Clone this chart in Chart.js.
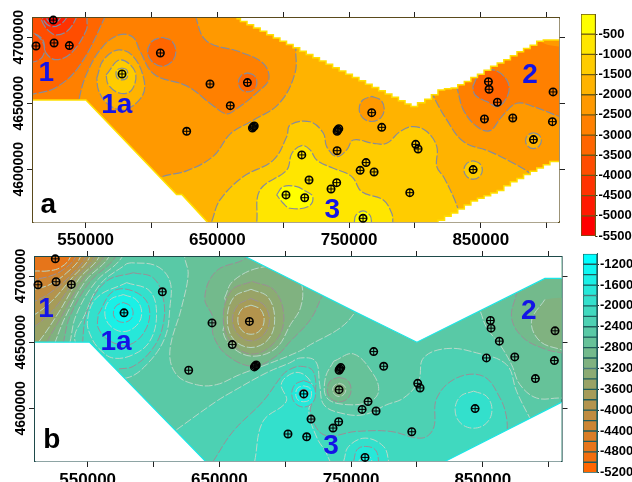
<!DOCTYPE html>
<html><head><meta charset="utf-8">
<script src="https://cdn.jsdelivr.net/npm/chart.js@4"></script>
<style>html,body{margin:0;padding:0;background:#fff;overflow:hidden}
canvas{position:absolute}</style></head>
<body>
<canvas id="mapA" style="left:0;top:0"></canvas>
<canvas id="barA" style="left:575px;top:0"></canvas>
<canvas id="mapB" style="left:0;top:241px"></canvas>
<canvas id="barB" style="left:577px;top:245px"></canvas>
<script>
// Wells, thousands of metres (easting, northing)
const wells = [[525.4,4713],[512.3,4693.4],[526,4695.7],[537.6,4693.7],[577.6,4672.2],[606.7,4688.1],[644.4,4664.6],[672.8,4665.7],[659.8,4648.2],[626.7,4628.8],[676.6,4631.3],[677.3,4632.1],[678,4632.8],[714.1,4610.9],[702.1,4580.6],[767.2,4642.9],[774.8,4631.8],[742.2,4630.8],[741.4,4629.8],[740.9,4628.8],[740.9,4614.1],[800.6,4618.9],[802.4,4615.4],[762.9,4605.1],[758.4,4599.2],[769,4598],[719.6,4591.9],[740.6,4589.9],[736.3,4585.1],[716.3,4578.5],[796.1,4582.3],[760.6,4562.9],[844.2,4599.8],[890,4622.5],[852.8,4638.1],[874.3,4638.9],[904.4,4636.1],[904.9,4658.6],[862.6,4650.8],[856.3,4660.6],[855.8,4666.4]];
const xTicks = [550000,600000,650000,700000,750000,800000,850000,900000];
const xLabelled = [550000,650000,750000,850000];
const yTicks = [4600000,4650000,4700000];
const levelsA = [0,-500,-1000,-1500,-2000,-2500,-3000,-3500,-4000,-4500,-5000,-5500];
const colorsA = ['#FFFF00','#FFE600','#FFCC00','#FFB300','#FF9900','#FF8000','#FF6600','#FF4D00','#FF3300','#FF1A00','#FF0000'];
const levelsB = [-1000,-1200,-1400,-1600,-1800,-2000,-2200,-2400,-2600,-2800,-3000,-3200,-3400,-3600,-3800,-4000,-4200,-4400,-4600,-4800,-5000,-5200];
const labelledB = [-1200,-1600,-2000,-2400,-2800,-3200,-3600,-4000,-4400,-4800,-5200];
const colorsB = ['#00FFFF','#0DF7F2','#1AF0E6','#26E8D9','#33E0CC','#40D9BF','#4DD1B3','#59C9A6','#66C299','#73BA8C','#80B280','#8CAB73','#99A366','#A69C59','#B3944D','#BF8C40','#CC8533','#D97D26','#E6751A','#F26E0D','#FF6600'];
const textA = [['1',520,4672.7,'#1414E6'],['1a',573.6,4648.8,'#1414E6'],['2',887.4,4671.5,'#1414E6'],['3',737.3,4569,'#1414E6'],['a',521.7,4573,'#000']];
const textB = [['1',518.4,4674.7,'#1414E6'],['1a',571.5,4650,'#1414E6'],['2',885,4673,'#1414E6'],['3',734.8,4571.2,'#1414E6'],['b',522.7,4575.8,'#000']];

// Filled contour bands: [band index, outline]
const contoursA = [
[3,[[495,4545],[925,4545],[925,4725],[495,4725]]],
[4,[[718,4720],[710,4694],[709,4673],[697,4650],[677,4637],[660,4627],[647,4610],[627,4599],[607,4594],[592,4584],[495,4584],[495,4725],[718,4725]]],
[5,[[633,4725],[634,4714],[642,4697],[667,4689],[685,4680],[689,4668],[680,4658],[665,4646],[657,4642],[647,4648],[627,4663],[602,4672],[591,4690],[586,4700],[576,4702],[563,4693],[551,4673],[545,4653],[544,4640],[495,4640],[495,4725]]],
[6,[[608,4700],[615.5,4697],[618.5,4689],[615.5,4681.5],[608,4678],[600.5,4681.5],[597,4689],[600.5,4697],[608,4700]]],
[6,[[673,4673],[678,4671],[680,4665.7],[678,4660.5],[673,4658.7],[668,4660.5],[666,4665.7],[668,4671],[673,4673]]],
[6,[[567,4725],[564,4714],[545,4678],[527.5,4662],[510,4657],[495,4655],[495,4725]]],
[7,[[552,4725],[551,4714],[550.5,4705.5],[539,4688],[527.5,4683],[520,4688],[517.5,4698],[510,4703],[495,4703],[495,4725]]],
[7,[[495,4703],[510,4703],[518,4695],[517,4685],[508,4681],[495,4683]]],
[8,[[545,4725],[542.5,4714],[535,4704],[525,4702.5],[516,4714],[516,4725]]],
[9,[[536,4725],[535,4714],[525,4708],[517.5,4714],[517.5,4725]]],
[10,[[531,4725],[531,4715],[525,4711],[520,4715],[520,4725]]],
[3,[[558.4,4669],[563.5,4682.9],[574.9,4690.4],[586.2,4685.4],[594.3,4667.7],[592.6,4655],[578.6,4645],[566,4650],[559.7,4660.1],[558.4,4669]]],
[2,[[565.5,4671.5],[576.1,4682.9],[587.5,4674],[585,4660.1],[576.1,4657.6],[567.3,4663.9],[565.5,4671.5]]],
[1,[[577.6,4676.7],[581,4675.5],[582,4672.2],[581,4669],[577.6,4667.7],[574.2,4669],[573,4672.2],[574.2,4675.5],[577.6,4676.7]]],
[4,[[809,4668],[814,4655.6],[824.2,4637.4],[836.8,4621],[857,4613.4],[874.8,4604.6],[888,4596.5],[897,4587],[925,4587],[925,4710],[840,4710],[809,4668]]],
[5,[[828,4672],[831.8,4662.1],[836.8,4645],[847,4632.4],[857,4629.3],[865.9,4639.9],[877.3,4650],[890,4647.5],[909.7,4640],[925,4635],[925,4692],[910,4693],[897.6,4695.5],[882,4705],[828,4705],[828,4672]]],
[6,[[843.9,4662.7],[849.5,4672.8],[859.6,4675.3],[869.7,4667.7],[871,4657.6],[863.4,4647.5],[854.5,4651.3],[845.7,4656.3],[843.9,4662.7]]],
[4,[[767.2,4655.2],[774,4652.5],[776.7,4645.7],[774,4639],[767.2,4636.2],[760.4,4639],[757.7,4645.7],[760.4,4652.5],[767.2,4655.2]]],
[3,[[890,4627.7],[894.2,4626],[896,4621.7],[894.2,4617.5],[890,4615.7],[885.8,4617.5],[884,4621.7],[885.8,4626],[890,4627.7]]],
[2,[[645.7,4560.4],[652,4576.8],[669.8,4594.5],[692.5,4607],[702.7,4624.8],[705.2,4633.6],[720.4,4636],[730.5,4627.3],[733,4617.2],[740.6,4609.6],[748.2,4614.7],[753.3,4622.2],[768.5,4619.7],[778.6,4619.7],[788.7,4628.6],[798.8,4632.4],[809,4628.6],[816.6,4617.2],[816.6,4602],[821.6,4594.5],[829.2,4579.3],[833,4569.2],[835.5,4561],[840,4550],[640,4550]]],
[2,[[844.2,4606.5],[849,4604.5],[851.2,4599.5],[849,4594.5],[844.2,4592.5],[839.4,4594.5],[837.2,4599.5],[839.4,4604.5],[844.2,4606.5]]],
[1,[[679.9,4560.4],[682.4,4584.4],[702.7,4599.5],[706.5,4612],[714,4618],[720.4,4614.7],[725.4,4607],[738,4600.8],[748.2,4597],[753.3,4593.2],[759.6,4583],[776,4576.8],[782.4,4566.7],[783.2,4560],[783,4550],[675,4550]]],
[0,[[695,4580.6],[700,4586.9],[710.3,4586.9],[715.3,4584.4],[722.4,4579.3],[719.1,4571.8],[705.2,4570.5],[700,4574.3],[695,4580.6]]],
[0,[[754,4560],[755,4565],[760.6,4568.5],[766,4565],[767,4560],[767,4550],[754,4550]]]
];
// White no-data zones, panel a (staircase edge of the grid)
const maskA1 = [[495,4652.5],[550.2,4652.5],[619,4581],[623,4581],[642.4,4560],[642.4,4545],[495,4545],[495,4652.5]];
const maskA2 = [[665,4725],[665,4714],[670,4712],[675,4709.5],[680,4707],[685,4704.5],[690,4702],[695,4699.5],[700,4697],[705,4694.5],[710,4692],[715,4689.5],[720,4687],[725,4684.5],[730,4682],[735,4679.5],[740,4677],[745,4674.5],[750,4672],[755,4669.5],[760,4667],[765,4664.5],[770,4662],[775,4659.5],[780,4657],[785,4654.5],[790,4652],[795,4649.5],[799,4647.5],[805,4650.5],[810,4653],[815,4656.5],[820,4660],[825,4661],[830,4661.5],[835,4664],[840,4666.5],[845,4669.5],[850,4672],[855,4675],[860,4678],[865,4680.5],[870,4683],[875,4686],[880,4689],[885,4691.5],[890,4694],[895,4697],[900,4698],[925,4698],[925,4725],[665,4725]];
const maskA3 = [[925,4606],[905,4606],[900,4603.5],[895,4601],[890,4598.5],[885,4596],[880,4593],[875,4590.5],[870,4587.5],[865,4584],[860,4582],[855,4580],[850,4578],[845,4576],[840,4573],[835,4570],[830,4567],[825,4564.5],[820,4561.5],[815,4559],[815,4545],[925,4545],[925,4606]];

// Filled contour bands: [band index, outline]
const contoursB = [
[7,[[495,4545],[925,4545],[925,4725],[495,4725]]],
[8,[[700,4725],[623,4725],[623.7,4713.9],[626.3,4701.3],[621.2,4676],[612.4,4643.2],[617.4,4625.5],[632.6,4617.9],[647.7,4617.9],[665.4,4625.5],[685.6,4633],[710.8,4643.2],[719.2,4648.2],[741.9,4660.9],[753.2,4673],[762,4690],[700,4725]]],
[9,[[672,4725],[670.5,4713.9],[647.7,4703.8],[638.9,4683.6],[645.2,4668.4],[645.2,4655.8],[655.3,4640.6],[675.5,4631.8],[693,4639.4],[704,4650.8],[719.2,4667.2],[728,4684.8],[732,4692],[710,4725],[672,4725]]],
[10,[[654,4683.6],[660.4,4696.2],[680.6,4706.3],[705.8,4706],[712.8,4692.4],[711.6,4676],[704,4663.4],[693.2,4645.7],[675.5,4639.4],[660.4,4645.7],[652.8,4658.3],[657.8,4669.7],[654,4683.6]]],
[11,[[675,4696],[692,4689],[699,4668],[692,4650],[675,4641],[659,4650],[653,4668],[659,4689],[675,4696]]],
[12,[[674,4690],[687,4684],[692,4667],[687,4652],[674,4646],[661,4652],[656,4667],[661,4684],[674,4690]]],
[13,[[674,4683],[684,4678],[688,4667],[684,4656],[674,4651],[664,4656],[660,4667],[664,4678],[674,4683]]],
[14,[[674,4678],[681,4675],[684,4667],[681,4659],[674,4656],[667,4659],[664,4667],[667,4675],[674,4678]]],
[8,[[576,4725],[575.8,4713.9],[555.6,4695],[541.2,4670.4],[536.6,4650],[535,4643],[495,4643],[495,4725]]],
[9,[[571,4725],[570.7,4713.9],[551.8,4695.7],[536.6,4669.7],[531.6,4650],[530,4643],[495,4643],[495,4725]]],
[10,[[566,4725],[565.7,4713.9],[548.7,4696.7],[533.3,4669.7],[525.3,4650],[523,4643],[495,4643],[495,4725]]],
[11,[[562,4725],[561.9,4713.9],[546.2,4697.5],[530.3,4669.7],[519,4650],[516,4643],[495,4643],[495,4725]]],
[12,[[558,4725],[558.3,4713.9],[543.7,4698.2],[527.8,4672.2],[512.6,4650],[505,4643],[495,4643],[495,4725]]],
[13,[[555,4725],[554.8,4713.9],[541.2,4698.7],[525.3,4676],[509.9,4662],[495,4654],[495,4725]]],
[14,[[551,4725],[551.3,4713.9],[538.6,4699.2],[522.7,4681],[509.9,4671],[495,4664],[495,4725]]],
[15,[[548,4725],[548,4713.9],[536.6,4700],[521.5,4687.4],[509.9,4681],[495,4676],[495,4725]]],
[16,[[544,4725],[544.2,4713.9],[534.1,4702.5],[521.5,4693.7],[509.9,4690],[495,4686],[495,4725]]],
[17,[[540,4725],[540.4,4713.9],[531.6,4705],[521.5,4700],[509.9,4697.5],[495,4694],[495,4725]]],
[18,[[537,4725],[536.6,4713.9],[529,4706.3],[519,4703.8],[509.9,4703.8],[495,4702],[495,4725]]],
[6,[[579.6,4709.3],[583.3,4710],[602.3,4707.6],[612.4,4696.2],[612.4,4676],[608.6,4653.3],[594.7,4633],[579.6,4623],[560,4625],[540.4,4650.8],[548,4671],[559.4,4693.7],[579.6,4709.3]]],
[5,[[584.6,4702.5],[599.7,4698.7],[607.3,4683.6],[607.3,4663.4],[599.7,4645.7],[584.6,4631.8],[570.7,4629],[560,4622],[548,4640],[546.2,4650],[550.5,4676],[564.4,4696.2],[584.6,4702.5]]],
[4,[[579.6,4695],[597.2,4688.6],[602.3,4671],[597.2,4650.8],[584.6,4640.6],[569.5,4638],[559.4,4644.4],[553,4653.3],[549.8,4666],[556.8,4683.6],[579.6,4695]]],
[3,[[558,4671],[569.5,4688.6],[584.6,4688.6],[596,4678.5],[594.7,4660.9],[582,4648.2],[567,4650.8],[558,4660.9],[558,4671]]],
[2,[[577,4686],[587,4682],[591,4672],[587,4662.5],[577,4658],[567,4662.5],[563,4672],[567,4682],[577,4686]]],
[1,[[577,4680],[582.3,4677.5],[584.5,4672],[582.3,4667],[577,4665],[571.7,4667],[569.5,4672],[571.7,4677.5],[577,4680]]],
[8,[[845,4680],[847.9,4674],[853,4660.9],[863,4648.2],[871.9,4633],[878.2,4618],[890.9,4607.8],[908.5,4607.8],[925,4607],[925,4710],[860,4710],[845,4680]]],
[9,[[878,4705],[875.7,4687.4],[871.9,4668.4],[880.8,4653.3],[898.4,4644.4],[909.5,4642],[925,4638],[925,4705],[878,4705]]],
[10,[[897.2,4682.3],[887,4665.9],[893.4,4650.8],[909.5,4644.4],[925,4640],[925,4682],[909.5,4683.6],[897.2,4682.3]]],
[6,[[617.4,4583.8],[647.7,4605.3],[660.4,4612.9],[685.6,4626.8],[703.3,4634.3],[711.6,4638.1],[723,4635.6],[726.2,4618],[729.3,4602.8],[741.9,4596.5],[759.6,4595.2],[777.2,4602.8],[789.9,4607.8],[801.2,4620.4],[805,4638.1],[822.7,4645.2],[845.4,4641.9],[868.1,4633],[875.7,4612.9],[885.8,4592.7],[891,4585],[830,4550],[620,4550],[605,4570],[617.4,4583.8]]],
[8,[[736.8,4635.6],[752,4641.1],[767.1,4625.5],[770.9,4612.9],[764.6,4605.3],[746.9,4602.8],[731.8,4607.8],[730.5,4623],[736.8,4635.6]]],
[9,[[741,4623.5],[747.5,4621],[750,4614],[747.5,4607.5],[741,4605],[734.5,4607.5],[732,4614],[734.5,4621],[741,4623.5]]],
[10,[[741,4619],[744.5,4617.5],[746,4614],[744.5,4610.5],[741,4609],[737.5,4610.5],[736,4614],[737.5,4617.5],[741,4619]]],
[5,[[645.2,4559.8],[660.4,4582.6],[683.1,4605.3],[698.2,4625.5],[703.3,4629.3],[711.6,4631.8],[721.2,4628],[722.9,4610.3],[719.2,4597.7],[729.3,4580],[754.5,4582.6],[779.8,4582.6],[803.7,4577.5],[812.6,4585],[815.1,4607.8],[830.3,4623],[850.5,4624.2],[863.1,4607.8],[868.1,4592.7],[868.1,4577.5],[865.6,4565],[860,4550],[640,4550]]],
[4,[[676.8,4559.9],[683.1,4590.1],[700.8,4605.3],[697,4618],[703.3,4625.5],[711.6,4626.8],[719.2,4620.4],[721.7,4610.3],[717.9,4597.7],[724.2,4577.5],[731.8,4564.9],[735,4550],[676,4550]]],
[3,[[714,4621],[720.5,4618],[723,4611],[720.5,4604],[714,4601],[707.5,4604],[705,4611],[707.5,4618],[714,4621]]],
[2,[[714,4617],[718.5,4615.5],[720,4611],[718.5,4606.5],[714,4605],[709.5,4606.5],[708,4611],[709.5,4615.5],[714,4617]]],
[1,[[714,4614.5],[716.5,4613.5],[717.5,4611],[716.5,4608.5],[714,4607.5],[711.5,4608.5],[710.5,4611],[711.5,4613.5],[714,4614.5]]],
[4,[[744.4,4559.9],[748.2,4571.2],[760.8,4577.5],[774.7,4571.2],[778.5,4559.9],[779,4550],[744,4550]]],
[3,[[752,4560],[754.5,4568.7],[760.8,4571.2],[768.4,4568.7],[770.9,4560],[771,4550],[752,4550]]],
[2,[[755.8,4560],[760.8,4566],[765.9,4560],[766,4550],[756,4550]]],
[4,[[843,4613],[853,4609],[857,4599],[853,4589],[843,4585],[833,4589],[829,4599],[833,4609],[843,4613]]]
];
const maskB1 = [[495,4650],[551.3,4650],[639.4,4560],[639.4,4545],[495,4545],[495,4650]];
const maskB2 = [[665,4725],[665,4717],[669.9,4714.6],[753,4673],[800,4650],[897.2,4698.2],[925,4698.2],[925,4725],[665,4725]];
const maskB3 = [[925,4604.5],[909.6,4604.5],[821.5,4560],[821.5,4545],[925,4545],[925,4604.5]];

const font = 'Liberation Sans, Arial, sans-serif';
const xy = p => ({x:p[0]*1000, y:p[1]*1000});

function shape(pts, fillColor, lineColor, extra){
  return Object.assign({type:'scatter', data:pts.map(xy), showLine:true, fill:'shape',
    backgroundColor:fillColor, borderColor:lineColor, borderWidth:1, pointRadius:0,
    tension:0.38, capBezierPoints:false, clip:0, parsing:false}, extra||{});
}
function markers(){
  return [
   {type:'scatter', data:wells.map(xy), pointStyle:'cross', pointRadius:3.6, pointBorderWidth:1,
    pointBorderColor:'#000', pointBackgroundColor:'#000', showLine:false, clip:false},
   {type:'scatter', data:wells.map(xy), pointStyle:'circle', pointRadius:3.7, pointBorderWidth:1.6,
    pointBorderColor:'#000', pointBackgroundColor:'rgba(0,0,0,0)', showLine:false, clip:false}
  ];
}
const textPlugin = items => ({id:'mapText', afterDatasetsDraw(c){
  const g=c.ctx; g.save(); g.textAlign='center'; g.textBaseline='middle';
  for(const t of items){
    g.font='bold 28px '+font; g.fillStyle=t[3];
    g.fillText(t[0], c.scales.x.getPixelForValue(t[1]*1000), c.scales.y.getPixelForValue(t[2]*1000));
  }
  g.restore();
}});

function mapChart(id, w, h, box, lim, datasets, items, edge){
  const el=document.getElementById(id); el.width=w; el.height=h; el.style.width=w+'px'; el.style.height=h+'px';
  const setX = s => { s.ticks = xTicks.map(v=>({value:v})); };
  const setY = s => { s.ticks = yTicks.map(v=>({value:v})); };
  const grid = {drawOnChartArea:false, color:'#222', lineWidth:1, tickLength:6};
  const border = {color:edge, width:1.6};
  new Chart(el,{type:'scatter', data:{datasets},
   plugins:[textPlugin(items)],
   options:{responsive:false, animation:false, events:[], layout:{padding:0},
    plugins:{legend:{display:false},tooltip:{enabled:false},title:{display:false}},
    scales:{
     x:{type:'linear',position:'bottom',min:lim[0],max:lim[1],grid,border,afterBuildTicks:setX,
        afterFit:s=>{s.height=box.b},
        ticks:{autoSkip:false,maxRotation:0,minRotation:0,padding:box.xpad,color:'#000',font:{family:font,size:17,weight:'bold'},
          callback:v=>xLabelled.includes(v)?String(v):''}},
     xTop:{type:'linear',position:'top',min:lim[0],max:lim[1],grid,border,afterBuildTicks:setX,
        afterFit:s=>{s.height=box.t}, ticks:{autoSkip:false,maxRotation:0,callback:()=>''}},
     y:{type:'linear',position:'left',min:lim[2],max:lim[3],grid,border,afterBuildTicks:setY,
        afterFit:s=>{s.width=box.l},
        ticks:{autoSkip:false,minRotation:90,maxRotation:90,crossAlign:'center',padding:-19,color:'#000',
          font:{family:font,size:14,weight:'bold'},callback:v=>String(v)}},
     yRight:{type:'linear',position:'right',min:lim[2],max:lim[3],grid,border,afterBuildTicks:setY,
        afterFit:s=>{s.width=box.r}, ticks:{autoSkip:false,callback:()=>''}}
    }}});
}
function barChart(id, w, h, pad, rightW, levels, colors, labelled, edge){
  const el=document.getElementById(id); el.width=w; el.height=h; el.style.width=w+'px'; el.style.height=h+'px';
  const datasets = colors.map((c,i)=>({data:[[levels[i+1],levels[i]]], backgroundColor:c, borderColor:edge,
     borderWidth:1, borderSkipped:false, barPercentage:1, categoryPercentage:1, grouped:false}));
  new Chart(el,{type:'bar', data:{labels:['band'],datasets},
   options:{responsive:false, animation:false, events:[], layout:{padding:pad},
    plugins:{legend:{display:false},tooltip:{enabled:false}},
    scales:{
     x:{display:false,grid:{display:false}},
     y:{position:'right',min:levels[levels.length-1],max:levels[0],
        grid:{drawOnChartArea:false,color:'#222',tickLength:2},border:{color:edge,width:1},
        afterBuildTicks:s=>{s.ticks=labelled.map(v=>({value:v}))},
        afterFit:s=>{s.width=rightW},
        ticks:{autoSkip:false,padding:1,color:'#000',font:{family:font,size:13,weight:'bold'},callback:v=>String(v)}}
    }}});
}

// Panel a
const dsA=[];
contoursA.forEach(c=>dsA.push(shape(c[1],colorsA[c[0]],'#868c9c',{borderDash:[9,2],borderWidth:1.2})));
dsA[0].borderWidth=0; dsA[0].tension=0;
[maskA1].forEach(m=>dsA.push(shape(m,'#fff','#FFE000',{tension:0,borderWidth:1.5})));
[maskA2,maskA3].forEach(m=>dsA.push(shape(m,'#fff','#FFE000',{tension:0,borderWidth:1.5,stepped:'middle'})));
const allA=dsA.concat(markers().reverse());
allA.forEach((d,i)=>{d.order=allA.length-i});
mapChart('mapA',575,250,{l:33,r:16,t:18,b:28,xpad:2},[510000,909400,4560100,4714600],allA,textA,'#5a4a1c');
barChart('barA',57,245,{left:6,top:14,bottom:9,right:0},36.5,levelsA,colorsA,levelsA.slice(1),'#6b5a14');

// Panel b
const dsB=[];
contoursB.forEach(c=>dsB.push(shape(c[1],colorsB[c[0]],c[0]%2?'#9a8f96':'#b9d8c8',{borderDash:[8,2]})));
dsB[0].borderWidth=0; dsB[0].tension=0;
[maskB1,maskB2,maskB3].forEach(m=>dsB.push(shape(m,'#fff','#19E6E6',{tension:0,borderWidth:1.2})));
const allB=dsB.concat(markers().reverse());
allB.forEach((d,i)=>{d.order=allB.length-i});
mapChart('mapB',575,241,{l:35,r:13.5,t:16,b:21,xpad:3},[510000,909800,4560200,4714400],allB,textB,'#1e4a4a');
barChart('barB',55,237,{left:6,top:6,bottom:9.3,right:0},35,levelsB,colorsB,labelledB,'#1e5c5c');
</script>
</body></html>
